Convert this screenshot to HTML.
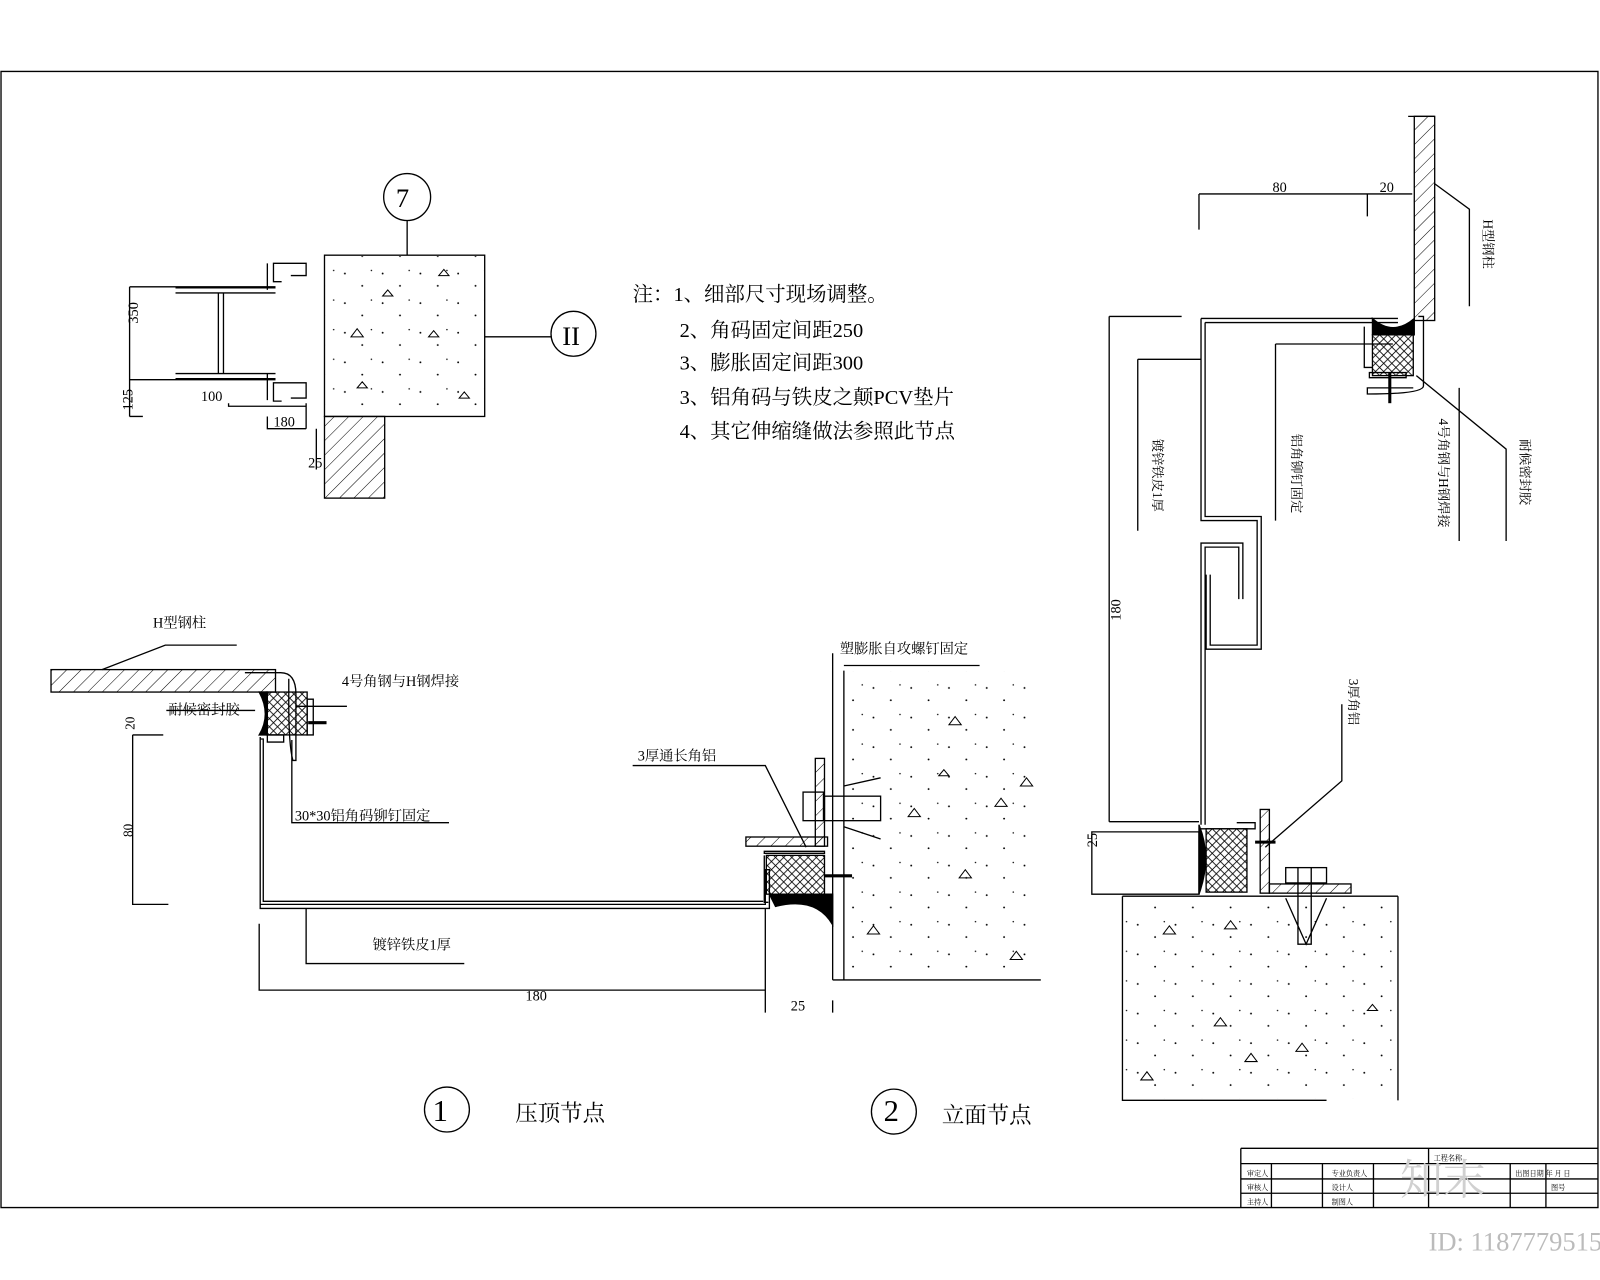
<!DOCTYPE html>
<html><head><meta charset="utf-8"><style>
html,body{margin:0;padding:0;background:#fff;}
svg{display:block;}
text{font-family:"Liberation Serif","Noto Serif CJK SC","Noto Sans CJK SC",serif;fill:#000;}
</style></head><body>
<svg width="1600" height="1280" viewBox="0 0 1568 1254" preserveAspectRatio="none" xmlns="http://www.w3.org/2000/svg">
<defs>
<pattern id="hat" width="10" height="10" patternUnits="userSpaceOnUse" patternTransform="rotate(45)"><line x1="0" y1="0" x2="0" y2="10" stroke="#000" stroke-width="1"/></pattern>
<pattern id="xh" width="8" height="8" patternUnits="userSpaceOnUse"><path d="M0 0L8 8M8 0L0 8" stroke="#000" stroke-width="0.8"/></pattern>
<pattern id="dots" width="37" height="29" patternUnits="userSpaceOnUse"><circle cx="5" cy="7" r="0.9" fill="#000"/><circle cx="22" cy="19" r="0.9" fill="#000"/><circle cx="31" cy="4" r="0.7" fill="#000"/></pattern>
</defs>
<rect width="1568" height="1254" fill="#fff"/>
<rect x="319" y="251" width="155" height="156" fill="url(#dots)"/>
<rect x="828" y="658" width="190" height="300" fill="url(#dots)"/>
<rect x="1101" y="880" width="268" height="196" fill="url(#dots)"/>
<g fill="none" stroke="#000" stroke-width="1.3">
<path d="M1 70H1566V1183H1 Z"/>
<path d="M1216 1125H1566M1216 1125V1183M1216 1140H1566M1216 1155H1566M1216 1169H1566M1246 1140V1183M1296 1140V1183M1346 1140V1183M1400 1125V1183M1480 1140V1183M1515 1140V1183"/>

<circle cx="399" cy="193" r="23"/>
<line x1="399" y1="216" x2="399" y2="250"/>
<rect x="318" y="250" width="157" height="158"/>
<line x1="475" y1="330" x2="540" y2="330"/>
<circle cx="562" cy="327" r="22"/>
<rect x="318" y="408" width="59" height="80" fill="url(#hat)"/>
<path d="M127 281H270M127 372H270M127 408H140M172 282H270M172 287H270M172 366H270M172 371H270M214 287V366M219 287V366"/>
<path d="M270 258H300V270H285M270 375H300V390H285M262 258V284M262 366V392M276 258h-8v18h8M276 375h-8v18h8"/>
<path d="M127 281V408M224 395V398H300M300 395V420M262 408V420H300M310 420V460"/>

<rect x="50" y="656" width="220" height="22" fill="url(#hat)"/>
<path d="M100 656L162 632H232"/>
<path d="M240 659H275Q290 659 290 680V745H287Q283 730 283 690V665"/>
<rect x="261" y="678" width="40" height="42" fill="url(#xh)"/>
<path d="M254 678Q266 700 254 720H262V678Z" fill="#000"/>
<path d="M262 720H278V727H262ZM301 685H307V720H301Z"/>
<path d="M302 708H320" stroke-width="3"/>
<path d="M290 692H340"/>
<path d="M255 722V886H750V852H754V890H255Z"/>
<path d="M255 724H258V883H748"/>
<path d="M130 720H160M130 720V886H165"/>
<path d="M163 696H250"/>
<path d="M286 725V806H440"/>
<path d="M300 890V944H455"/>
<path d="M254 905V970H750M750 890V992M816 980V992"/>
<path d="M816 640V960M827 657V960M827 652H960M816 960H1020"/>
<path d="M620 750H750L790 830"/>
<rect x="731" y="820" width="80" height="9" fill="url(#hat)"/>
<rect x="799" y="743" width="9" height="86" fill="url(#hat)"/>
<rect x="787" y="776" width="20" height="28"/>
<rect x="808" y="780" width="55" height="24"/>
<path d="M827 770L863 762M827 810L863 822"/>
<rect x="751" y="838" width="57" height="38" fill="url(#xh)"/>
<path d="M749 834H808V836H749ZM749 838V884H753"/>
<path d="M754 876H812V888Q780 880 760 888Z" fill="#000"/>
<path d="M760 888Q800 878 816 906V876H812" fill="#000"/>
<path d="M808 858H835" stroke-width="3"/>

<rect x="1386" y="114" width="20" height="200" fill="url(#hat)"/>
<path d="M1380 114H1406M1406 180L1440 205V300"/>
<path d="M1175 190V225M1175 190H1384M1340 190V212"/>
<!-- sheet with fold -->
<path d="M1177 312H1370M1181 316H1370"/>
<path d="M1177 312V510H1232V632H1186V563M1181 316V506H1236V636H1182V563"/>
<path d="M1177 808V532H1218V587M1181 808V536H1214V587"/>
<path d="M1087 310V805M1087 310H1158M1087 805H1175M1070 815H1175V876H1070Z"/>
<path d="M1115 352H1177M1115 352V520M1250 337H1365M1250 337V510"/>
<rect x="1345" y="328" width="40" height="40" fill="url(#xh)"/>
<path d="M1345 312Q1365 330 1386 312V328H1345Z" fill="#000"/>
<path d="M1337 320V360H1345M1342 365H1378V370H1342Z"/>
<path d="M1390 310H1395V378Q1395 386 1340 386V380H1385"/>
<path d="M1362 365V395" stroke-width="3"/>
<path d="M1388 368L1476 440V530M1430 380V530"/>
<rect x="1182" y="812" width="40" height="62" fill="url(#xh)"/>
<path d="M1175 808V876Q1188 840 1175 808Z" fill="#000"/>
<path d="M1175 812H1230V806H1212"/>
<rect x="1235" y="793" width="9" height="82" fill="url(#hat)"/>
<rect x="1244" y="866" width="80" height="9" fill="url(#hat)"/>
<rect x="1260" y="850" width="40" height="15"/>
<path d="M1272 850V925H1285V850M1260 880L1280 925L1300 880"/>
<path d="M1230 825H1250" stroke-width="3"/>
<path d="M1240 830L1315 765V690"/>
<path d="M1100 878H1370M1100 878V1078H1300"/>
<path d="M1370 878V1078"/>
</g>
<g stroke="#000" stroke-width="1" fill="none">
<path d="M344 330l6 -8 6 8z M430 270l5-6 5 6z M350 380l5-6 5 6z M420 330l5-6 5 6z M450 390l5-6 5 6z M375 290l5-6 5 6z"/>
<path d="M930 710l6-8 6 8z M975 790l6-8 6 8z M890 800l6-8 6 8z M850 915l6-8 6 8z M990 940l6-8 6 8z M940 860l6-8 6 8z M1000 770l6-8 6 8z M920 760l5-6 5 6z"/>
<path d="M1140 915l6-8 6 8z M1200 910l6-8 6 8z M1190 1005l6-8 6 8z M1270 1030l6-8 6 8z M1118 1058l6-8 6 8z M1220 1040l6-8 6 8z M1340 990l5-6 5 6z"/>
</g>
<g font-size="20">
<text x="388" y="203" font-size="26">7</text>
<text x="551" y="338" font-size="26">II</text>
<text x="424" y="1098" font-size="30">1</text>
<text x="866" y="1098" font-size="30">2</text>
</g>
<circle cx="438" cy="1087" r="22" fill="none" stroke="#000" stroke-width="1.3"/>
<circle cx="876" cy="1089" r="22" fill="none" stroke="#000" stroke-width="1.3"/>
<g font-size="22">
<text x="505" y="1098">压顶节点</text>
<text x="923" y="1100">立面节点</text>
</g>
<g font-size="20">
<text x="620" y="295">注：1、细部尺寸现场调整。</text>
<text x="666" y="330">2、角码固定间距250</text>
<text x="666" y="362">3、膨胀固定间距300</text>
<text x="666" y="396">3、铝角码与铁皮之颠PCV垫片</text>
<text x="666" y="429">4、其它伸缩缝做法参照此节点</text>
</g>
<g font-size="14">
<text x="133" y="345" transform="rotate(-90 120 330)">350</text>
<text x="108" y="400" transform="rotate(-90 120 390)">125</text>
<text x="197" y="393">100</text>
<text x="268" y="418">180</text>
<text x="302" y="458">25</text>
<text x="150" y="615">H型钢柱</text>
<text x="335" y="672">4号角钢与H钢焊接</text>
<text x="165" y="700">耐候密封胶</text>
<text x="289" y="804">30*30铝角码铆钉固定</text>
<text x="365" y="930">镀锌铁皮1厚</text>
<text x="515" y="980">180</text>
<text x="775" y="990">25</text>
<text x="823" y="640">塑膨胀自攻螺钉固定</text>
<text x="625" y="745">3厚通长角铝</text>
<text x="1247" y="188">80</text>
<text x="1352" y="188">20</text>
<text x="1085" y="850" transform="rotate(-90 1070 845)">25</text>
<text x="1085" y="605" transform="rotate(-90 1093 600)">180</text>
</g>
<g font-size="13">
<text x="105" y="712" transform="rotate(-90 120 700)">20</text>
<text x="105" y="815" transform="rotate(-90 120 805)">80</text>
<text x="1454" y="215" transform="rotate(90 1454 215)">H型钢柱</text>
<text x="1130" y="430" transform="rotate(90 1130 430)">镀锌铁皮1厚</text>
<text x="1266" y="425" transform="rotate(90 1266 425)">铝角铆钉固定</text>
<text x="1410" y="410" transform="rotate(90 1410 410)">4号角钢与H钢焊接</text>
<text x="1490" y="430" transform="rotate(90 1490 430)">耐候密封胶</text>
<text x="1322" y="665" transform="rotate(90 1322 665)">3厚角铝</text>
</g>
<g font-size="7">
<text x="1222" y="1152">审定人</text><text x="1222" y="1166">审核人</text><text x="1222" y="1180">主持人</text>
<text x="1305" y="1152">专业负责人</text><text x="1305" y="1166">设计人</text><text x="1305" y="1180">制图人</text>
<text x="1405" y="1137">工程名称</text><text x="1485" y="1152">出图日期  年 月 日</text><text x="1520" y="1166">图号</text>
</g>
<text x="1372" y="1170" font-size="42" style="fill:#d0d0d0">知末</text>
<text x="1400" y="1225" font-size="26" style="fill:#bbb" font-family="Liberation Sans">ID: 1187779515</text>
</svg>
</body></html>
